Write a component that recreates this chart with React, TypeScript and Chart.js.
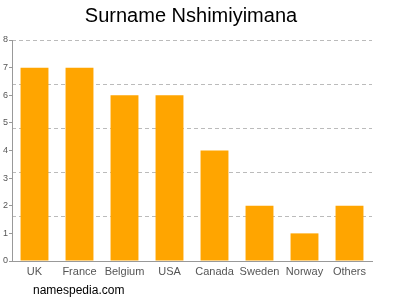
import React, { useEffect, useRef } from "react";
import { Chart, registerables } from "chart.js";

Chart.register(...registerables);

const categories = ["UK", "France", "Belgium", "USA", "Canada", "Sweden", "Norway", "Others"];
const counts = [7, 7, 6, 6, 4, 2, 1, 2];
const yTickValues = [0, 1, 2, 3, 4, 5, 6, 7, 8];
const gridValues = [1.6, 3.2, 4.8, 6.4, 8];
const titleText = "Surname Nshimiyimana";
const footerText = "namespedia.com";

const footerPlugin = {
  id: "footerText",
  afterDraw(chart: any) {
    const ctx = chart.ctx;
    ctx.save();
    ctx.font = "12px 'Liberation Sans', Arial, sans-serif";
    ctx.fillStyle = "#000";
    ctx.textBaseline = "middle";
    ctx.textAlign = "left";
    ctx.fillText(footerText, 33, 291);
    ctx.restore();
  },
};

export default function App() {
  const ref = useRef<HTMLCanvasElement | null>(null);
  useEffect(() => {
    if (!ref.current) return;
    const chart = new Chart(ref.current, {
      type: "bar",
      data: {
        labels: categories,
        datasets: [
          {
            data: counts,
            backgroundColor: "#FFA500",
            borderWidth: 0,
            barPercentage: 0.62,
            categoryPercentage: 1,
          },
        ],
      },
      plugins: [footerPlugin],
      options: {
        animation: false,
        responsive: false,
        maintainAspectRatio: false,
        layout: { padding: { left: 0, right: 18, top: 0, bottom: 17 } },
        plugins: {
          legend: { display: false },
          tooltip: { enabled: false },
          title: {
            display: true,
            text: titleText,
            color: "#000",
            font: { family: "'Liberation Sans', Arial, sans-serif", size: 20, weight: "normal" },
            padding: { top: 4, bottom: 12 },
          },
        },
        scales: {
          x: {
            grid: { display: false, drawTicks: false },
            border: { display: true, color: "#999" },
            ticks: {
              color: "#555",
              padding: 4,
              font: { family: "'Liberation Sans', Arial, sans-serif", size: 11 },
              maxRotation: 0,
              autoSkip: false,
            },
            afterFit: (s: any) => {
              s.height = 22;
            },
          },
          y: {
            min: 0,
            max: 8,
            position: "left",
            grid: { drawOnChartArea: false, drawTicks: true, tickLength: 3, color: "#999" },
            border: { display: true, color: "#999" },
            ticks: {
              color: "#555",
              padding: 1,
              font: { family: "'Liberation Sans', Arial, sans-serif", size: 9 },
            },
            afterBuildTicks: (s: any) => {
              s.ticks = yTickValues.map((v) => ({ value: v }));
            },
            afterFit: (s: any) => {
              s.width = 12;
            },
          },
          y2: {
            min: 0,
            max: 8,
            position: "right",
            grid: { drawTicks: false, color: "#bbb", lineWidth: 1 },
            border: { display: false, dash: [4, 3] },
            ticks: { display: false },
            afterBuildTicks: (s: any) => {
              s.ticks = gridValues.map((v) => ({ value: v }));
            },
            afterFit: (s: any) => {
              s.width = 10;
            },
          },
        },
      },
    } as any);
    return () => chart.destroy();
  }, []);
  return (
    <div style={{ position: "fixed", left: 0, top: 0, width: 400, height: 300, background: "#fff" }}>
      <canvas ref={ref} width={400} height={300} style={{ width: 400, height: 300 }} />
    </div>
  );
}
